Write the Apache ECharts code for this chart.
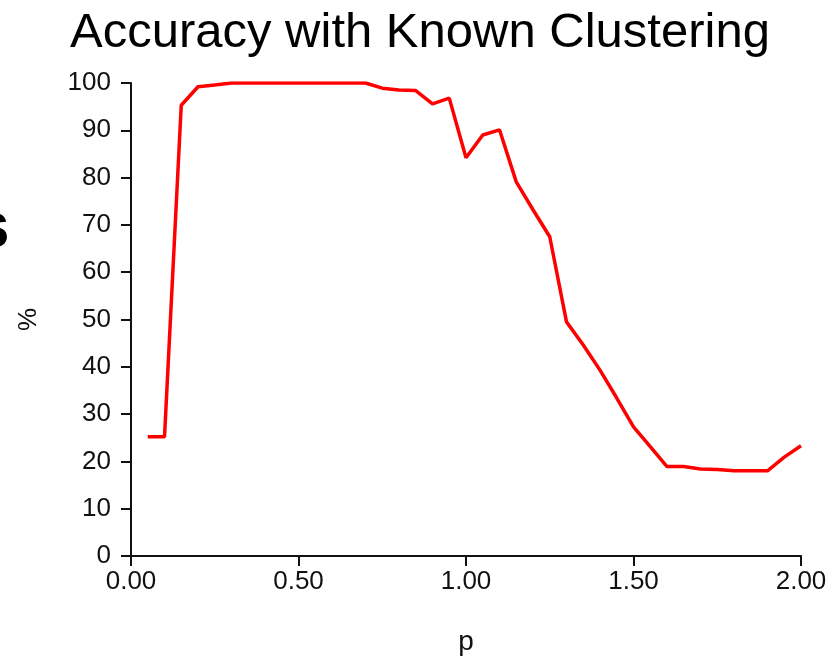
<!DOCTYPE html>
<html>
<head>
<meta charset="utf-8">
<script src="https://cdn.jsdelivr.net/npm/echarts@6/dist/echarts.min.js"></script>
<style>
  html, body { margin: 0; padding: 0; background: #fff; }
  #main { width: 831px; height: 657px; }
</style>
</head>
<body>
<div id="main"></div>
<script>
// p values and accuracy (%)
var pValues = [0.05, 0.10, 0.15, 0.20, 0.25, 0.30, 0.35, 0.40, 0.45, 0.50, 0.55, 0.60, 0.65, 0.70,
  0.75, 0.80, 0.85, 0.90, 0.95, 1.00, 1.05, 1.10, 1.15, 1.20, 1.25, 1.30, 1.35, 1.40, 1.45, 1.50,
  1.55, 1.60, 1.65, 1.70, 1.75, 1.80, 1.85, 1.90, 1.95, 2.00]
var accuracy = [25.2, 25.2, 95.3, 99.2, 99.6, 100, 100, 100, 100, 100, 100, 100, 100, 100,
  98.9, 98.5, 98.4, 95.6, 96.8, 84.2, 89.0, 90.1, 79.1, 73.2, 67.5, 49.5, 44.6, 39.3, 33.4, 27.3,
  23.1, 18.9, 18.9, 18.4, 18.3, 18.0, 18.0, 18.0, 20.9, 23.3]

var points = []
for (let i = 0; i < pValues.length; i++) {
  points.push([pValues[i], accuracy[i]])
}

var myChart = echarts.init(document.getElementById('main'), null, { renderer: 'canvas' })
var labelFont = 'Liberation Sans'

var option = {
  backgroundColor: '#ffffff',
  animation: false,
  title: {
    text: 'Accuracy with Known Clustering',
    left: 65,
    top: 4,
    textStyle: {
      fontFamily: 'Liberation Sans',
      fontWeight: 'normal',
      fontSize: 49,
      color: '#000'
    }
  },
  graphic: [
    {
      type: 'text',
      left: -26,
      top: 197,
      style: {
        text: 's',
        font: 'bold 64px Liberation Sans',
        fill: '#000'
      }
    }
  ],
  grid: {
    left: 131,
    right: 30,
    top: 83,
    bottom: 101,
    outerBoundsMode: 'none'
  },
  xAxis: {
    type: 'value',
    min: 0,
    max: 2,
    interval: 0.5,
    name: 'p',
    nameLocation: 'middle',
    nameGap: 72,
    nameTextStyle: { fontFamily: labelFont, fontSize: 28, color: '#111' },
    axisLine: { lineStyle: { color: '#111', width: 2 } },
    axisTick: { length: 10, lineStyle: { color: '#111', width: 2 } },
    axisLabel: {
      fontFamily: labelFont,
      fontSize: 26,
      color: '#111',
      margin: 13,
      formatter: function (v) { return v.toFixed(2) }
    },
    splitLine: { show: false }
  },
  yAxis: {
    type: 'value',
    min: 0,
    max: 100,
    interval: 10,
    name: '%',
    nameLocation: 'middle',
    nameGap: 89,
    nameRotate: 90,
    nameTextStyle: { fontFamily: labelFont, fontSize: 26, color: '#111' },
    axisLine: { show: true, lineStyle: { color: '#111', width: 2 } },
    axisTick: { show: true, length: 10, lineStyle: { color: '#111', width: 2 } },
    axisLabel: {
      fontFamily: labelFont,
      fontSize: 26,
      color: '#111',
      margin: 20
    },
    splitLine: { show: false }
  },
  series: [
    {
      type: 'line',
      data: points,
      showSymbol: false,
      lineStyle: { color: '#ff0000', width: 3.5 }
    }
  ]
}
myChart.setOption(option)
</script>
</body>
</html>
